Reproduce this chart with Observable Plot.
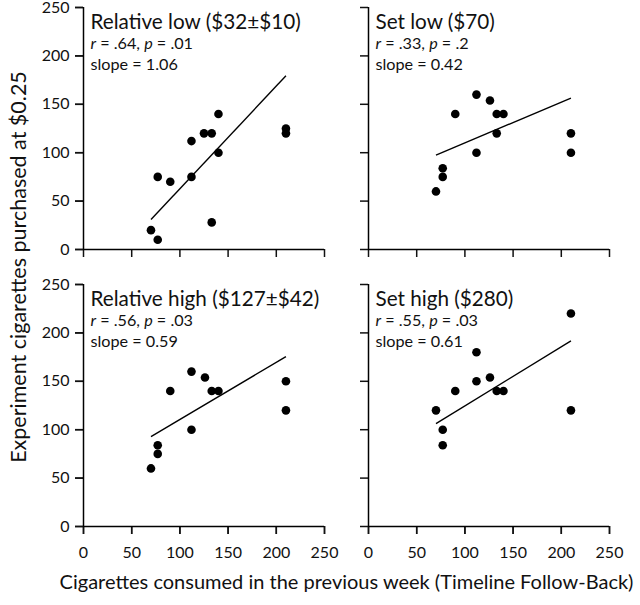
<!DOCTYPE html>
<html>
<head>
<meta charset="utf-8">
<script src="https://cdn.jsdelivr.net/npm/d3@7"></script>
<script src="https://cdn.jsdelivr.net/npm/@observablehq/plot@0.6"></script>
<style>
  html, body { margin: 0; padding: 0; background: white; }
</style>
</head>
<body>
<div id="chart"></div>
<script>
// ---- Data ----
const conditions = ["Relative low ($32±$10)", "Set low ($70)", "Relative high ($127±$42)", "Set high ($280)"];
const priceType  = ["Relative", "Set", "Relative", "Set"];
const priceLevel = ["low", "low", "high", "high"];
const rValues    = [".64", ".33", ".56", ".55"];
const pValues    = [".01", ".2", ".03", ".03"];
const slopes     = [1.06, 0.42, 0.59, 0.61];
const intercepts = [-43.2, 68.2, 51.6, 63.6];

const relLowX  = [70, 77, 77, 90, 112, 112, 125, 133, 133, 140, 140, 210, 210];
const relLowY  = [20, 10, 75, 70, 75, 112, 120, 120, 28, 140, 100, 125, 120];
const setLowX  = [70, 77, 77, 90, 112, 112, 126, 133, 133, 140, 210, 210];
const setLowY  = [60, 84, 75, 140, 160, 100, 154, 140, 120, 140, 120, 100];
const relHighX = [70, 77, 77, 90, 112, 112, 126, 133, 140, 210, 210];
const relHighY = [60, 75, 84, 140, 160, 100, 154, 140, 140, 150, 120];
const setHighX = [70, 77, 77, 90, 112, 112, 126, 133, 140, 210, 210];
const setHighY = [120, 100, 84, 140, 180, 150, 154, 140, 140, 220, 120];

const xTicks = [0, 50, 100, 150, 200, 250];
const yTicks = [0, 50, 100, 150, 200, 250];
const xLabel = "Cigarettes consumed in the previous week (Timeline Follow-Back)";
const yLabel = "Experiment cigarettes purchased at $0.25";

// ---- Build tables ----
const seriesX = [relLowX, setLowX, relHighX, setHighX];
const seriesY = [relLowY, setLowY, relHighY, setHighY];
const points = [];
seriesX.forEach((xs, i) => xs.forEach((x, j) => points.push({
  type: priceType[i], level: priceLevel[i], x, y: seriesY[i][j]
})));
const panels = conditions.map((c, i) => {
  const x1 = d3.min(seriesX[i]), x2 = d3.max(seriesX[i]);
  return {
    title: c, type: priceType[i], level: priceLevel[i],
    rp: `r = ${rValues[i]}, p = ${pValues[i]}`,
    slope: `slope = ${slopes[i].toFixed(2)}`,
    x1, x2, y1: intercepts[i] + slopes[i] * x1, y2: intercepts[i] + slopes[i] * x2
  };
});

const chart = Plot.plot({
  width: 640,
  height: 605,
  marginLeft: 82.7,
  marginRight: 30,
  marginTop: 6.7,
  marginBottom: 79.3,
  style: { fontFamily: "Lato, 'Open Sans', sans-serif", fontSize: "16px", color: "#111", background: "white" },
  x: { domain: [0, 250] },
  y: { domain: [0, 250] },
  fx: { domain: ["Relative", "Set"], axis: null, paddingInner: 0.155, paddingOuter: 0 },
  fy: { domain: ["low", "high"], axis: null, paddingInner: 0.1266, paddingOuter: 0 },
  marks: [
    // tick marks on every panel
    Plot.axisX({ facetAnchor: null, ticks: xTicks, tickSize: 8, tickFormat: () => "", strokeWidth: 1.5, label: null }),
    Plot.axisY({ facetAnchor: null, ticks: yTicks, tickSize: 8, tickFormat: () => "", strokeWidth: 1.5, label: null }),
    // labelled axes on the outer panels
    Plot.axisX({ ticks: xTicks, tickSize: 8, tickPadding: 12, strokeWidth: 1.5, fontSize: 16,
                 label: xLabel, labelAnchor: "center", labelOffset: 62, labelArrow: "none" }),
    Plot.axisY({ ticks: yTicks, tickSize: 8, tickPadding: 6, strokeWidth: 1.5, fontSize: 16,
                 label: yLabel, labelAnchor: "center", labelOffset: 73, labelArrow: "none" }),
    Plot.ruleX([0], { stroke: "black", strokeWidth: 1.5 }),
    Plot.ruleY([0], { stroke: "black", strokeWidth: 1.5 }),
    Plot.dot(points, { x: "x", y: "y", fx: "type", fy: "level", r: 4.3, fill: "black", stroke: "none" }),
    Plot.link(panels, { x1: "x1", y1: "y1", x2: "x2", y2: "y2", fx: "type", fy: "level", stroke: "black", strokeWidth: 1.4 }),
    Plot.text(panels, { fx: "type", fy: "level", text: "title", frameAnchor: "top-left", textAnchor: "start",
                        lineAnchor: "top", dx: 7, dy: 6.5, fontSize: 20.7, fill: "#111" }),
    Plot.text(panels, { fx: "type", fy: "level", text: "rp", frameAnchor: "top-left", textAnchor: "start",
                        lineAnchor: "top", dx: 7, dy: 30, fontSize: 16.2, fill: "#111" }),
    Plot.text(panels, { fx: "type", fy: "level", text: "slope", frameAnchor: "top-left", textAnchor: "start",
                        lineAnchor: "top", dx: 7, dy: 50.7, fontSize: 16.2, fill: "#111" })
  ]
});

// italicise the statistic symbols r and p
d3.select(chart).selectAll("text").each(function () {
  const t = this.textContent;
  const m = t.match(/^r = (.*), p = (.*)$/);
  if (!m) return;
  const el = d3.select(this);
  el.text(null);
  el.append("tspan").attr("font-style", "italic").text("r");
  el.append("tspan").text(` = ${m[1]}, `);
  el.append("tspan").attr("font-style", "italic").text("p");
  el.append("tspan").text(` = ${m[2]}`);
});

// axis title sizes
d3.select(chart).selectAll('g[aria-label="x-axis label"] text').attr("font-size", 20);
d3.select(chart).selectAll('g[aria-label="y-axis label"] text').attr("font-size", 21.5);

document.getElementById("chart").appendChild(chart);
</script>
</body>
</html>
